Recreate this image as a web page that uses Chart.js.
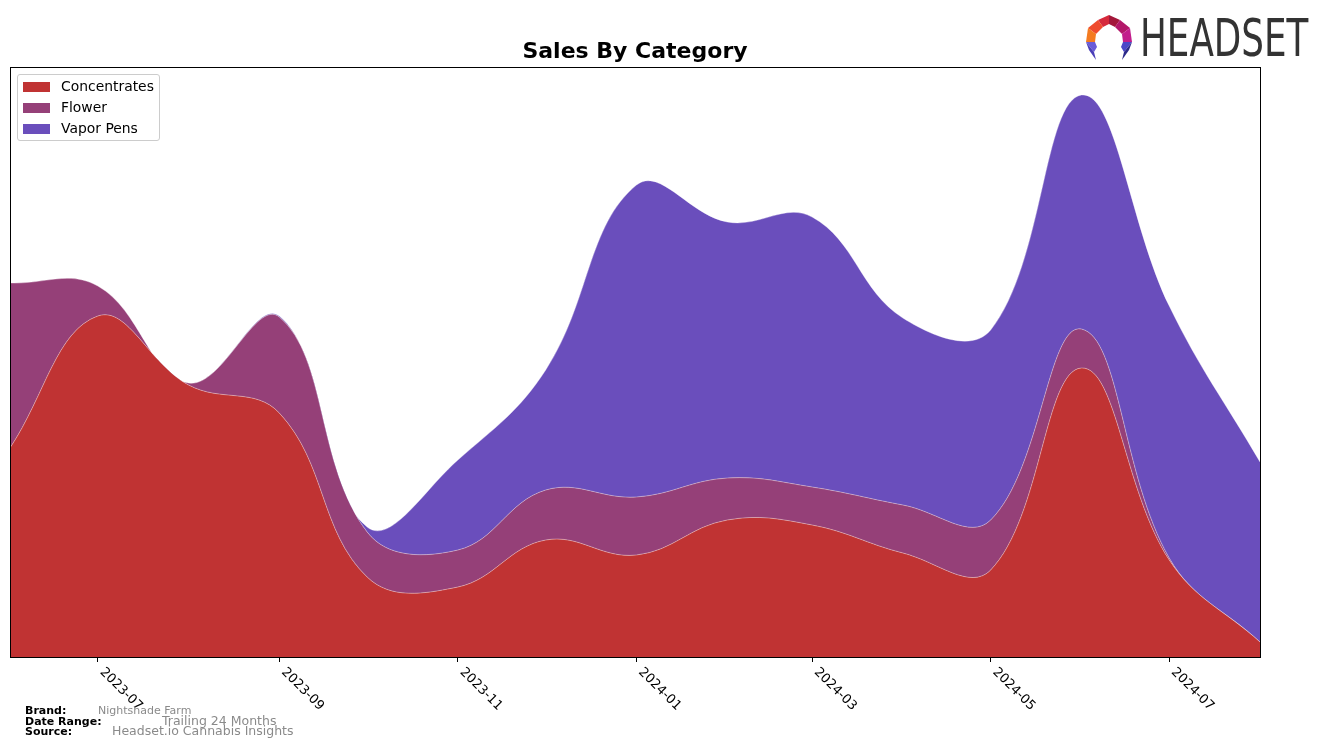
<!DOCTYPE html>
<html>
<head>
<meta charset="utf-8">
<script src="https://cdn.jsdelivr.net/npm/chart.js@4/dist/chart.umd.min.js"></script>
<style>
  html, body { margin: 0; padding: 0; background: #fff; }
  #wrap { position: relative; width: 1324px; height: 747px; overflow: hidden; font-family: 'DejaVu Sans', sans-serif; }
  canvas { position: absolute; left: 0; top: 0; }
  .legend { position: absolute; left: 17px; top: 74px; width: 141px; height: 65px; border: 1px solid #cccccc; border-radius: 3px; background: rgba(255,255,255,0.85); }
  .legend .row { position: absolute; left: 5px; height: 21px; }
  .legend .sw { position: absolute; left: 0; top: 6px; width: 27px; height: 10px; }
  .legend .lb { position: absolute; left: 38px; top: 2px; font-size: 13.9px; line-height: 17px; color: #000; white-space: nowrap; }
  .foot { position: absolute; white-space: nowrap; }
  .fk { font-weight: bold; font-size: 11px; line-height: 11px; color: #000; left: 25px; }
  .fv { color: #8a8a8a; }
  .logo-text { position: absolute; left: 1140px; top: 11px; font-size: 51px; line-height: 56px; color: #333333; transform-origin: 0 0; transform: scaleX(0.70); white-space: nowrap; }
</style>
</head>
<body>
<div id="wrap">
  <canvas id="c" width="1324" height="747"></canvas>
  <div class="legend" id="legend"></div>

  <div class="foot fk" style="top:705px;">Brand:</div>
  <div class="foot fv" style="left:98px; top:705px; font-size:11px; line-height:11px;">Nightshade Farm</div>
  <div class="foot fk" style="top:716px;">Date Range:</div>
  <div class="foot fv" style="left:162px; top:714px; font-size:12.5px; line-height:14px;">Trailing 24 Months</div>
  <div class="foot fk" style="top:726px;">Source:</div>
  <div class="foot fv" style="left:112px; top:724px; font-size:12.5px; line-height:14px;">Headset.io Cannabis Insights</div>

  <svg style="position:absolute; left:1085px; top:14px;" width="48" height="48" viewBox="0 0 48 48">
    <polygon points="24,1 35,6 30,13 24,10" fill="#a3173a"/>
    <polygon points="24,1 13,6 18,13 24,10" fill="#d62a3c"/>
    <polygon points="13,6 3,14 11,20 18,13" fill="#ef4b2e"/>
    <polygon points="35,6 45,14 37,20 30,13" fill="#b3186a"/>
    <polygon points="3,14 1,28 10,28 11,20" fill="#f47b20"/>
    <polygon points="45,14 47,28 38,28 37,20" fill="#c21e8c"/>
    <polygon points="1,28 10,28 12,33 9,38" fill="#6a5cd8"/>
    <polygon points="1,28 9,38 11,46 4,36" fill="#4a3fb8"/>
    <polygon points="47,28 38,28 36,33 39,38" fill="#4b47c8"/>
    <polygon points="47,28 39,38 37,46 44,36" fill="#2c2a8a"/>
  </svg>
  <div class="logo-text">HEADSET</div>
</div>
<script>
// ---- data ----
const months = ['2023-06','2023-07','2023-08','2023-09','2023-10','2023-11','2023-12',
                '2024-01','2024-02','2024-03','2024-04','2024-05','2024-06','2024-07','2024-08'];
const tickLabels = ['2023-07','2023-09','2023-11','2024-01','2024-03','2024-05','2024-07'];
const seriesNames = ['Concentrates','Flower','Vapor Pens'];
const concentrates = [209, 341, 272, 244, 80, 70, 117, 102, 137, 132, 104, 87, 289, 97, 15];
const flower       = [165, 30, 2, 96, 45, 37, 50, 58, 42, 38, 48, 50, 39, 2, 0];
const vaporPens    = [0, 0, 0, 1, 5, 90, 120, 312, 256, 270, 187, 190, 234, 252, 180];
const seriesColors = ['#c03333', '#954078', '#6a4ebc'];

// month label -> day number (calendar position on the time axis)
function dayOf(label) {
  const [y, m] = label.split('-').map(Number);
  return Date.UTC(y, m - 1, 1) / 86400000;
}
const labelByDay = {};
months.forEach(m => { labelByDay[dayOf(m)] = m; });

// ---- legend (HTML) ----
const legendEl = document.getElementById('legend');
seriesNames.forEach((n, i) => {
  const r = document.createElement('div');
  r.className = 'row';
  r.style.top = (1 + i * 21) + 'px';
  r.innerHTML = '<div class="sw" style="background:' + seriesColors[i] + '"></div><div class="lb">' + n + '</div>';
  legendEl.appendChild(r);
});

const seriesData = [concentrates, flower, vaporPens];

const framePlugin = {
  id: 'frameAndLabels',
  afterDraw(chart) {
    const ctx = chart.ctx;
    const a = chart.chartArea;
    ctx.save();
    ctx.strokeStyle = '#000';
    ctx.lineWidth = 1;
    ctx.strokeRect(Math.round(a.left) + 0.5, Math.round(a.top) + 0.5, Math.round(a.right - a.left), Math.round(a.bottom - a.top));
    const xs = chart.scales.x;
    ctx.fillStyle = '#000';
    ctx.font = '13px "DejaVu Sans"';
    ctx.textAlign = 'left';
    ctx.textBaseline = 'middle';
    xs.ticks.forEach(t => {
      const x = xs.getPixelForValue(t.value);
      ctx.save();
      ctx.translate(x + 4, a.bottom + 13);
      ctx.rotate(Math.PI / 4);
      ctx.fillText(labelByDay[t.value], 0, 0);
      ctx.restore();
    });
    ctx.restore();
  }
};

new Chart(document.getElementById('c'), {
  type: 'line',
  data: {
    datasets: seriesNames.map((n, i) => ({
      label: n,
      data: seriesData[i].map((v, j) => ({ x: dayOf(months[j]), y: v })),
      backgroundColor: seriesColors[i],
      borderColor: 'rgba(255,255,255,0.35)',
      borderWidth: 1,
      pointRadius: 0,
      fill: i === 0 ? 'origin' : '-1',
      tension: 0.4
    }))
  },
  options: {
    responsive: false,
    animation: false,
    layout: { padding: { left: 10, right: 64, top: 0, bottom: 85 } },
    plugins: {
      legend: { display: false },
      tooltip: { enabled: false },
      title: {
        display: true,
        text: 'Sales By Category',
        color: '#000',
        font: { family: 'DejaVu Sans', size: 22, weight: 'bold' },
        padding: { top: 39, bottom: 1.6 }
      }
    },
    scales: {
      x: {
        type: 'linear',
        min: dayOf(months[0]),
        max: dayOf(months[months.length - 1]),
        afterBuildTicks: s => { s.ticks = tickLabels.map(l => ({ value: dayOf(l) })); },
        grid: { display: true, drawOnChartArea: false, drawTicks: true, tickLength: 5, color: '#000' },
        border: { display: true, color: '#000' },
        ticks: { display: false, autoSkip: false }
      },
      y: {
        display: false,
        stacked: true,
        min: 0,
        max: 590
      }
    }
  },
  plugins: [framePlugin]
});
</script>
</body>
</html>
